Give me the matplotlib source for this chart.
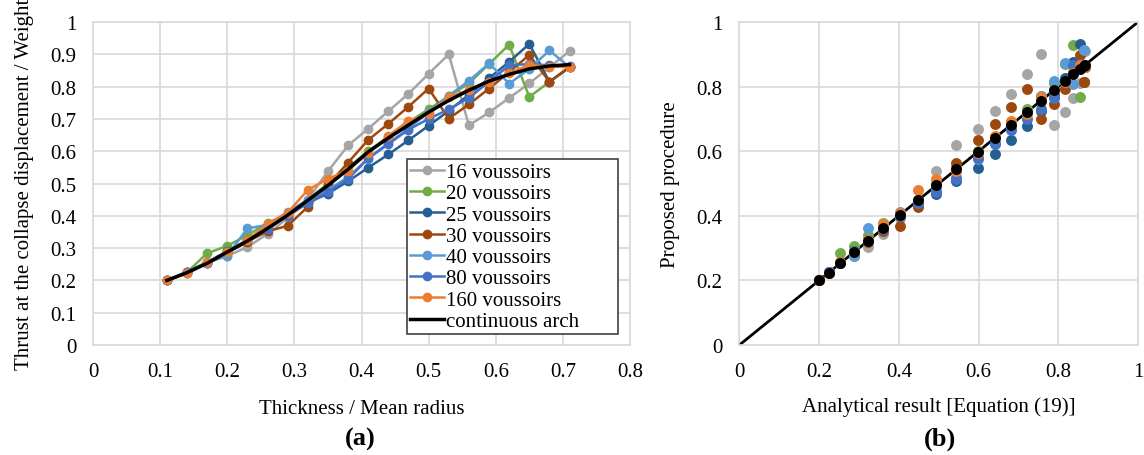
import matplotlib
matplotlib.use('Agg')
from matplotlib import pyplot as plt
import numpy as np

plt.rcParams['font.family'] = ['Liberation Serif', 'DejaVu Serif']
plt.rcParams['font.size'] = 15

# thickness / mean radius
thick = [0.11, 0.14, 0.17, 0.20, 0.23, 0.26, 0.29, 0.32, 0.35, 0.38, 0.41,
         0.44, 0.47, 0.50, 0.53, 0.56, 0.59, 0.62, 0.65, 0.68, 0.71]

# continuous arch (analytical)
cont = [0.200, 0.224, 0.253, 0.288, 0.322, 0.361, 0.402, 0.448, 0.494, 0.544, 0.598,
        0.641, 0.681, 0.721, 0.757, 0.789, 0.817, 0.838, 0.855, 0.864, 0.868]

v16 = [0.200, 0.224, 0.255, 0.276, 0.303, 0.344, 0.393, 0.450, 0.538, 0.618, 0.670,
       0.724, 0.778, 0.840, 0.900, 0.680, 0.720, 0.765, 0.810, 0.860, 0.910]
v20 = [0.200, 0.225, 0.284, 0.307, 0.340, 0.378, 0.405, 0.450, 0.500, 0.550, 0.600,
       0.645, 0.690, 0.730, 0.770, 0.810, 0.870, 0.930, 0.768, 0.815, 0.860]
v25 = [0.200, 0.226, 0.255, 0.290, 0.325, 0.360, 0.400, 0.440, 0.469, 0.507, 0.549,
       0.590, 0.634, 0.679, 0.725, 0.775, 0.826, 0.877, 0.932, 0.815, 0.860]
v30 = [0.200, 0.222, 0.255, 0.285, 0.320, 0.352, 0.369, 0.428, 0.495, 0.565, 0.635,
       0.685, 0.738, 0.794, 0.701, 0.745, 0.794, 0.845, 0.898, 0.815, 0.860]
v40 = [0.200, 0.226, 0.255, 0.277, 0.361, 0.372, 0.412, 0.450, 0.480, 0.520, 0.577,
       0.625, 0.670, 0.720, 0.772, 0.818, 0.872, 0.809, 0.855, 0.912, 0.860]
v80 = [0.200, 0.226, 0.257, 0.290, 0.325, 0.360, 0.400, 0.440, 0.475, 0.514, 0.578,
       0.622, 0.667, 0.700, 0.730, 0.765, 0.815, 0.866, 0.870, 0.866, 0.865]
v160 = [0.200, 0.222, 0.256, 0.289, 0.325, 0.375, 0.410, 0.480, 0.515, 0.540, 0.595,
        0.648, 0.694, 0.715, 0.767, 0.790, 0.813, 0.842, 0.867, 0.862, 0.860]

series = [v16, v20, v25, v30, v40, v80, v160]
labels = ['16 voussoirs', '20 voussoirs', '25 voussoirs', '30 voussoirs',
          '40 voussoirs', '80 voussoirs', '160 voussoirs']
colors = ['#A5A5A5', '#70AD47', '#255E91', '#9E480E', '#5B9BD5', '#4472C4', '#ED7D31']

grid_c = '#D9D9D9'

fig = plt.figure(figsize=(11.44, 4.56), dpi=100)
ax1 = fig.add_axes([0.0813, 0.2412, 0.4694, 0.7083])
ax2 = fig.add_axes([0.6463, 0.2412, 0.3485, 0.7083])

# (a)
for s, lab, c in zip(series, labels, colors):
    ax1.plot(thick, s, '-o', color=c, lw=1.8, ms=6, label=lab)
ax1.plot(thick, cont, '-', color='black', lw=2.5, label='continuous arch')

ax1.set_xlim(0, 0.8)
ax1.set_ylim(0, 1)
ax1.set_xticks(np.arange(0, 0.81, 0.1))
ax1.set_yticks(np.arange(0, 1.01, 0.1))
ax1.set_xticklabels(['0', '0.1', '0.2', '0.3', '0.4', '0.5', '0.6', '0.7', '0.8'])
ax1.set_yticklabels(['0', '0.1', '0.2', '0.3', '0.4', '0.5', '0.6', '0.7', '0.8', '0.9', '1'])
ax1.set_xlabel('Thickness / Mean radius', labelpad=13)
ax1.set_ylabel('Thrust at the collapse displacement / Weight', labelpad=12)

leg = ax1.legend(loc='lower left', bbox_to_anchor=(0.585, 0.034, 0.393, 0.536),
                 mode='expand', fancybox=False, edgecolor='#404040', framealpha=1,
                 handlelength=1.6, handletextpad=0.1, labelspacing=0.08,
                 borderpad=0.15, borderaxespad=0)
leg.get_frame().set_linewidth(1.2)

# (b)
ax2.plot([0, 1], [0, 1], '-', color='black', lw=2, zorder=2)
for s, c in zip(series, colors):
    ax2.scatter(cont, s, s=62, color=c, zorder=3, linewidths=0)
ax2.scatter(cont, cont, s=62, color='black', zorder=4, linewidths=0)

ax2.set_xlim(0, 1)
ax2.set_ylim(0, 1)
ax2.set_xticks(np.arange(0, 1.01, 0.2))
ax2.set_yticks(np.arange(0, 1.01, 0.2))
ax2.set_xticklabels(['0', '0.2', '0.4', '0.6', '0.8', '1'])
ax2.set_yticklabels(['0', '0.2', '0.4', '0.6', '0.8', '1'])
ax2.set_xlabel('Analytical result [Equation (19)]', labelpad=11)
ax2.set_ylabel('Proposed procedure', labelpad=12)

for ax in (ax1, ax2):
    ax.grid(True, color=grid_c, lw=1.2)
    ax.set_axisbelow(True)
    for sp in ax.spines.values():
        sp.set_color(grid_c)
        sp.set_linewidth(1.2)
    ax.tick_params(length=0, pad=12)

fig.text(0.315, 0.012, '(a)', fontsize=19, fontweight='bold', ha='center', va='bottom')
fig.text(0.822, 0.012, '(b)', fontsize=19, fontweight='bold', ha='center', va='bottom')

fig.savefig('out.png', dpi=100)
